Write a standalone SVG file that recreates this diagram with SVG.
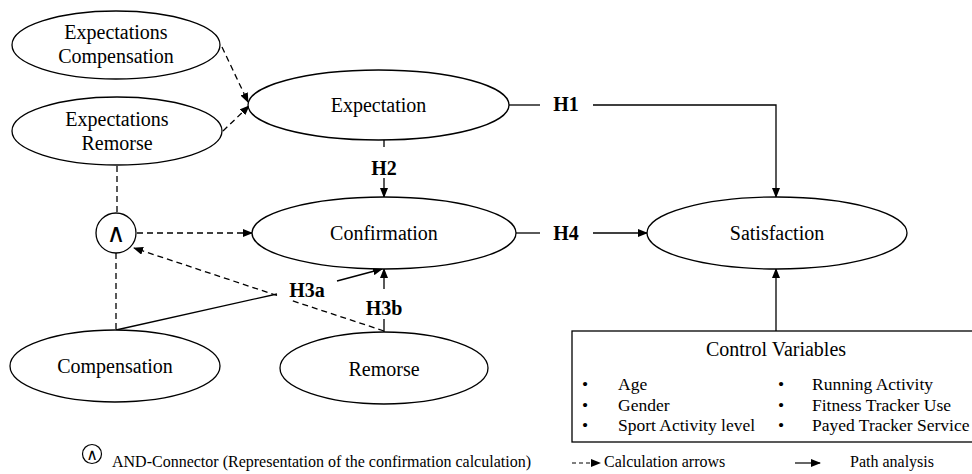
<svg xmlns="http://www.w3.org/2000/svg" width="972" height="474" viewBox="0 0 972 474">
<defs>
<style>
.n{fill:#fff;stroke:#000;stroke-width:1.3}
.t{font-family:"Liberation Serif","Times New Roman",serif;font-size:20px;fill:#000;text-anchor:middle}
.h{font-family:"Liberation Serif","Times New Roman",serif;font-size:20px;font-weight:bold;fill:#000;text-anchor:middle}
.c{font-family:"Liberation Serif","Times New Roman",serif;font-size:17.5px;fill:#000}
.l{font-family:"Liberation Serif","Times New Roman",serif;font-size:16px;fill:#000}
.s{fill:none;stroke:#000;stroke-width:1.3}
.d{fill:none;stroke:#000;stroke-width:1.3;stroke-dasharray:6,4}
.and{font-family:"DejaVu Sans",sans-serif;fill:#000;text-anchor:middle}
</style>
<marker id="ah" markerWidth="10" markerHeight="8" refX="9" refY="4" orient="auto" markerUnits="userSpaceOnUse">
<path d="M0,0 L10,4 L0,8 Z" fill="#000"/>
</marker>
</defs>
<rect width="972" height="474" fill="#fff"/>

<g id="connectors">
<line class="d" x1="222" y1="47" x2="248" y2="102" marker-end="url(#ah)"/>
<line class="d" x1="223" y1="131" x2="249" y2="106" marker-end="url(#ah)"/>
<line class="d" x1="117" y1="166" x2="117" y2="213"/>
<line class="d" x1="137" y1="233" x2="252" y2="233" marker-end="url(#ah)"/>
<line class="d" x1="116" y1="253" x2="116" y2="330"/>
<line class="s" x1="116" y1="330" x2="277" y2="294"/>
<line class="s" x1="337" y1="281" x2="382" y2="269" marker-end="url(#ah)"/>
<line class="d" x1="384" y1="331" x2="290" y2="300"/>
<line class="d" x1="277" y1="295.5" x2="134" y2="248" marker-end="url(#ah)"/>
<line class="s" x1="384" y1="332" x2="384" y2="319"/>
<line class="s" x1="384" y1="289" x2="384" y2="269" marker-end="url(#ah)"/>
<line class="s" x1="384" y1="140" x2="384" y2="147"/>
<line class="s" x1="384" y1="178" x2="384" y2="197" marker-end="url(#ah)"/>
<line class="s" x1="509" y1="105" x2="540" y2="105"/>
<polyline class="s" points="593,105 776,105 776,197" marker-end="url(#ah)"/>
<line class="s" x1="516" y1="233" x2="540" y2="233"/>
<line class="s" x1="593" y1="233" x2="647" y2="233" marker-end="url(#ah)"/>
<line class="s" x1="776" y1="331" x2="776" y2="269" marker-end="url(#ah)"/>
</g>

<g id="labels">
<text class="h" x="566" y="111">H1</text>
<text class="h" x="384" y="175">H2</text>
<text class="h" x="307" y="297">H3a</text>
<text class="h" x="384" y="315">H3b</text>
<text class="h" x="566" y="240">H4</text>
</g>

<g id="expectations-compensation">
<ellipse class="n" cx="116" cy="45" rx="104" ry="34"/>
<text class="t" x="116" y="39">Expectations</text>
<text class="t" x="116" y="63">Compensation</text>
</g>
<g id="expectations-remorse">
<ellipse class="n" cx="117" cy="131" rx="105" ry="34"/>
<text class="t" x="117" y="126">Expectations</text>
<text class="t" x="117" y="150">Remorse</text>
</g>
<g id="expectation">
<ellipse class="n" cx="378.5" cy="105" rx="130.5" ry="35"/>
<text class="t" x="378.5" y="112">Expectation</text>
</g>
<g id="confirmation">
<ellipse class="n" cx="384" cy="233" rx="132" ry="36"/>
<text class="t" x="384" y="240">Confirmation</text>
</g>
<g id="and-connector">
<circle class="n" cx="116" cy="233" r="20"/>
<text class="and" x="116" y="242" font-size="26">∧</text>
</g>
<g id="compensation">
<ellipse class="n" cx="115" cy="366" rx="105" ry="36"/>
<text class="t" x="115" y="373">Compensation</text>
</g>
<g id="remorse">
<ellipse class="n" cx="384" cy="368" rx="104" ry="36"/>
<text class="t" x="384" y="376">Remorse</text>
</g>
<g id="satisfaction">
<ellipse class="n" cx="777" cy="233" rx="130" ry="36"/>
<text class="t" x="777" y="240">Satisfaction</text>
</g>
<g id="control-variables">
<rect class="n" x="572" y="331" width="402" height="111"/>
<text class="t" x="776" y="356">Control Variables</text>
<text class="c" x="585" y="390" text-anchor="middle">•</text>
<text class="c" x="585" y="410.5" text-anchor="middle">•</text>
<text class="c" x="585" y="431" text-anchor="middle">•</text>
<text class="c" x="618" y="390">Age</text>
<text class="c" x="618" y="410.5">Gender</text>
<text class="c" x="618" y="431">Sport Activity level</text>
<text class="c" x="781" y="390" text-anchor="middle">•</text>
<text class="c" x="781" y="410.5" text-anchor="middle">•</text>
<text class="c" x="781" y="431" text-anchor="middle">•</text>
<text class="c" x="812" y="390">Running Activity</text>
<text class="c" x="812" y="410.5">Fitness Tracker Use</text>
<text class="c" x="812" y="431">Payed Tracker Service</text>
</g>

<g id="legend">
<circle cx="92" cy="454" r="9.5" fill="#fff" stroke="#000" stroke-width="1.2"/>
<text class="and" x="92" y="460" font-size="16">∧</text>
<text class="l" x="112" y="467">AND-Connector (Representation of the confirmation calculation)</text>
<line x1="572" y1="463" x2="600" y2="463" stroke="#000" stroke-width="1.2" stroke-dasharray="4,3" marker-end="url(#ah)"/>
<text class="l" x="604" y="467">Calculation arrows</text>
<line x1="795" y1="463" x2="820" y2="463" stroke="#000" stroke-width="1.2" marker-end="url(#ah)"/>
<text class="l" x="850" y="467">Path analysis</text>
</g>
</svg>
